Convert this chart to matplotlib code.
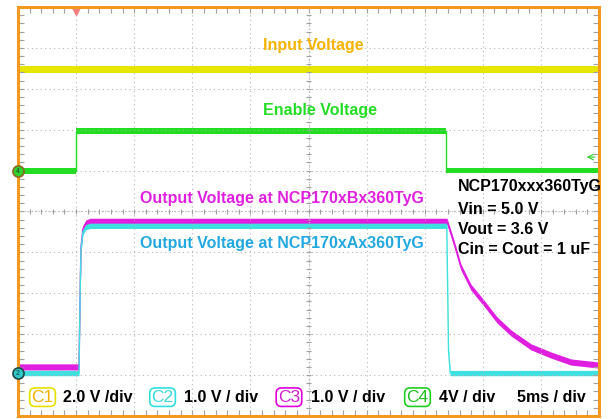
import numpy as np
import matplotlib.pyplot as plt
from matplotlib.ticker import MultipleLocator

plt.rcParams['font.family'] = ['Liberation Sans', 'DejaVu Sans']

# time in ms (5 ms/div), amplitude in screen divisions
input_t = [0, 50]
input_v = [8.48, 8.48]

enable_t = [0, 5.0, 5.0, 36.8, 36.8, 50]
enable_v = [5.99, 5.99, 6.97, 6.97, 6.0, 6.0]

outA_t = [0, 5.25, 5.34, 5.42, 5.59, 5.85, 6.2, 36.9, 37.05, 37.2, 50]
outA_v = [1.05, 1.05, 2.84, 4.06, 4.50, 4.62, 4.65, 4.65, 1.6, 1.05, 1.05]

outB_t = [0, 5.25, 5.34, 5.42, 5.59, 5.85, 6.2, 36.92, 37.52, 38.12, 38.98,
          40.10, 41.22, 42.43, 44.15, 45.87, 47.59, 49.83, 50]
outB_v = [1.20, 1.20, 2.90, 4.12, 4.58, 4.72, 4.76, 4.76, 4.23, 3.64, 3.15,
          2.76, 2.35, 2.03, 1.69, 1.49, 1.32, 1.25, 1.24]

legend_labels = ["C1", "C2", "C3", "C4"]
legend_texts = ["2.0 V /div", "1.0 V / div", "1.0 V / div", "4V / div"]
timebase = "5ms / div"
setup_lines = ["NCP170xxx360TyG", "Vin = 5.0 V", "Vout = 3.6 V", "Cin = Cout = 1 uF"]

orange = '#F39A1E'
yellow = '#E6E600'
green = '#22DD22'
cyan = '#3EE0E0'
magenta = '#E01EE0'

fig = plt.figure(figsize=(6.08, 4.19), dpi=100)
ax = fig.add_axes([18 / 608, 3 / 419, 581 / 608, 409 / 419])
ax.set_xlim(0, 50)
ax.set_ylim(0, 10)

for s in ax.spines.values():
    s.set_color(orange)
    s.set_linewidth(2.2)

ax.xaxis.set_major_locator(MultipleLocator(5))
ax.xaxis.set_minor_locator(MultipleLocator(1))
ax.yaxis.set_major_locator(MultipleLocator(1))
ax.yaxis.set_minor_locator(MultipleLocator(0.2))
ax.tick_params(which='both', direction='in', top=True, right=True,
               labelbottom=False, labelleft=False, length=4, width=0.8,
               color='#A0A0A0')
ax.grid(which='major', linestyle=(0, (1, 3)), color='#B5B5B5', linewidth=0.8)

# center cross lines with small ticks
ax.axhline(5, color='#B5B5B5', lw=0.8, ls=(0, (1, 2)))
ax.axvline(25, color='#B5B5B5', lw=0.8, ls=(0, (1, 2)))
ax.vlines(np.arange(1, 50, 1), 4.93, 5.07, color='#A0A0A0', lw=0.8)
ax.hlines(np.arange(0.2, 10, 0.2), 24.8, 25.2, color='#A0A0A0', lw=0.8)


# traces: thin line plus a vertical noise band (band only grows vertically)
def trace(t, v, color, half):
    t = np.asarray(t)
    v = np.asarray(v)
    ax.fill_between(t, v - half, v + half, color=color, lw=0)
    ax.plot(t, v, color=color, lw=1.0)


trace(input_t, input_v, yellow, 0.085)
trace(enable_t, enable_v, green, 0.065)
trace(outB_t, outB_v, magenta, 0.075)
trace(outA_t, outA_v, cyan, 0.065)

# trace labels
kw = dict(fontsize=11.5, fontweight='bold')
ax.text(25.4, 9.07, "Input Voltage", color='#F5B400', ha='center', va='center', **kw)
ax.text(26.0, 7.48, "Enable Voltage", color='#22DD22', ha='center', va='center', **kw)
ax.text(10.5, 5.33, "Output Voltage at NCP170xBx360TyG", color='#E020E0',
        ha='left', va='center', **kw)
ax.text(10.5, 4.21, "Output Voltage at NCP170xAx360TyG", color='#22A8E0',
        ha='left', va='center', **kw)
for yv, line in zip([5.60, 5.06, 4.55, 4.06], setup_lines):
    ax.text(37.87, yv, line, color='black', ha='left', va='center', **kw)

# channel markers, trigger marker, arrow
ax.plot([0], [5.99], 'o', ms=8, mfc='#30D030', mec='#8A6A20', mew=1.2, clip_on=False, zorder=5)
ax.text(0, 5.99, "4", fontsize=5, ha='center', va='center', color='#204020', zorder=6)
ax.plot([0], [1.05], 'o', ms=8, mfc='#30C8C8', mec='#204848', mew=1.2, clip_on=False, zorder=5)
ax.text(0, 1.05, "2", fontsize=5, ha='center', va='center', color='#103030', zorder=6)
ax.plot([4.95], [9.9], 'v', ms=6, color='#F08080', clip_on=False)
ax.annotate('', xy=(48.7, 6.33), xytext=(49.9, 6.33),
            arrowprops=dict(arrowstyle='->', color='#30D030', lw=0.8))

# bottom legend
box_x = [2.11, 12.44, 23.32, 34.38]
text_x = [3.87, 14.29, 25.22, 36.23]
edge_cols = ['#E6E000', '#30E0E0', '#E000E0', '#20D020']
txt_cols = ['#F0B000', '#38D8D8', '#D020D0', '#20C020']
for bx, tx, lab, t, ec, tc in zip(box_x, text_x, legend_labels, legend_texts, edge_cols, txt_cols):
    ax.text(bx, 0.46, lab, color=tc, fontsize=12.5, ha='center', va='center',
            bbox=dict(boxstyle='round,pad=0.1,rounding_size=0.3', fc='white', ec=ec, lw=1.2))
    ax.text(tx, 0.46, t, color='black', fontsize=11.5, fontweight='bold',
            ha='left', va='center')
ax.text(42.94, 0.46, timebase, color='black', fontsize=11.5, fontweight='bold',
        ha='left', va='center')

fig.savefig("out.png", dpi=100)
